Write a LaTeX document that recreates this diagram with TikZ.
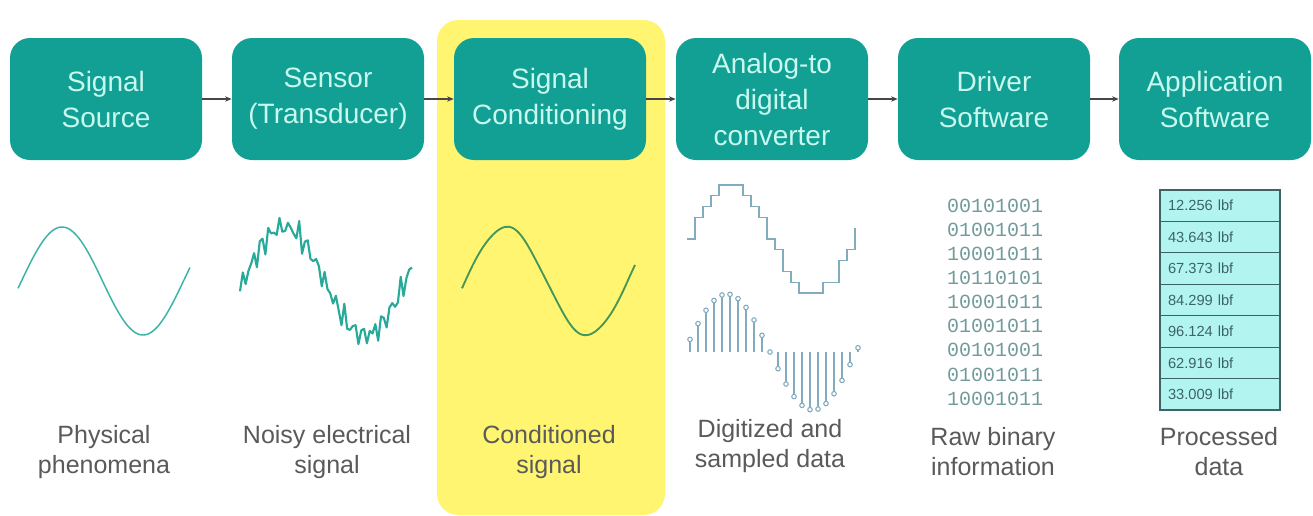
\documentclass[tikz,border=0pt]{standalone}
\usepackage{fontspec}
\setmainfont{Liberation Sans}
\setmonofont{Liberation Mono}
\usetikzlibrary{arrows.meta}
\definecolor{teal1}{RGB}{18,160,148}
\definecolor{boxtext}{RGB}{200,248,238}
\definecolor{hl}{RGB}{255,245,112}
\definecolor{wavec}{RGB}{58,180,165}
\definecolor{noisec}{RGB}{40,170,155}
\definecolor{condw}{RGB}{70,150,90}
\definecolor{digi}{RGB}{130,172,190}
\definecolor{labelc}{RGB}{90,90,90}
\definecolor{binc}{RGB}{115,155,155}
\definecolor{cellfill}{RGB}{178,245,240}
\definecolor{cellline}{RGB}{60,100,100}
\definecolor{arrowc}{RGB}{70,70,70}
\tikzset{
  stage/.style={fill=teal1, rounded corners=15pt, minimum width=144pt, minimum height=91.5pt,
    text=boxtext, font=\fontsize{21}{27}\selectfont, align=center, inner sep=0pt},
  conn/.style={draw=arrowc, line width=0.8pt, -{Stealth[length=5pt,width=4pt]}},
  lbl/.style={text=labelc, align=center, font=\fontsize{18.75}{22.5}\selectfont},
  bin/.style={text=binc, align=center, font=\ttfamily\fontsize{15}{18.1}\selectfont},
  cell/.style={draw=cellline, fill=cellfill, line width=0.8pt, minimum width=90pt, minimum height=23.55pt,
    text width=78pt, align=left, inner xsep=6pt, inner ysep=0pt, font=\fontsize{11}{13}\selectfont, text=cellline},
  physw/.style={draw=wavec, line width=1.1pt, line join=round},
  noisyw/.style={draw=noisec, line width=1.6pt, line join=round},
  condws/.style={draw=condw, line width=1.4pt, line join=round},
  digiw/.style={draw=digi, line width=0.8pt}
}
\begin{document}
\begin{tikzpicture}[x=0.75pt,y=-0.75pt]
\useasboundingbox (0,0) rectangle (1313,515);
\fill[white] (0,0) rectangle (1313,515);
% highlight
\fill[hl, rounded corners=16pt] (437,20) rectangle (665,515);
% stages
\node[stage] (src) at (106,99) {Signal\\Source};
\node[stage] (sen) at (328,99) {Sensor\\(Transducer)};
\node[stage] (cond) at (550,99) {Signal\\Conditioning};
\node[stage] (adc) at (772,99) {Analog-to\\digital\\converter};
\node[stage] (drv) at (994,99) {Driver\\Software};
\node[stage] (app) at (1215,99) {Application\\Software};
\draw[conn] (src.east) -- (sen.west);
\draw[conn] (sen.east) -- (cond.west);
\draw[conn] (cond.east) -- (adc.west);
\draw[conn] (adc.east) -- (drv.west);
\draw[conn] (drv.east) -- (app.west);
% physical sine
\draw[physw] plot[domain=18:190, samples=100, smooth] (\x, {281-54*cos(2.2222*(\x-62))});
% noisy
\draw[noisyw] plot[domain=240:412, samples=62] (\x, {281-54*cos(2.2222*(\x-284)) + 8*sin(89*(\x-240)) + 6*sin(71*(\x-240)+30) + 3*sin(47*(\x-240))});
% conditioned
\draw[condws] plot[domain=462:635, samples=45, smooth] (\x, {281-54*cos(2.2222*(\x-506)) + 0.9*sin(83*(\x-462))});
% staircase
\draw[digiw] (687,{239-10.8*round(5*cos(2.16867*(691-731)))})
  \foreach \k in {0,...,20} {
    -- ({695+8*\k},{239-10.8*round(5*cos(2.16867*(691+8*\k-731)))})
    -- ({695+8*\k},{239-10.8*round(5*cos(2.16867*(699+8*\k-731)))})
  };
% stems
\foreach \k in {0,...,21} {
  \pgfmathsetmacro\sx{690+8*\k}
  \pgfmathsetmacro\sv{58*sin(2.0930*(\sx-684))}
  \draw[digiw] (\sx,352) -- (\sx,{352-(\sv)});
  \draw[digiw, fill=white] (\sx,{352-(\sv)}) circle[radius=1.7pt];
}
% binary
\node[bin] (bin) at (995,302) {00101001\\01001011\\10001011\\10110101\\10001011\\01001011\\00101001\\01001011\\10001011};
% table
\node[cell] (c1) at (1220,205.7) {12.256 lbf};
\node[cell] (c2) at (1220,237.1) {43.643 lbf};
\node[cell] (c3) at (1220,268.6) {67.373 lbf};
\node[cell] (c4) at (1220,300.0) {84.299 lbf};
\node[cell] (c5) at (1220,331.4) {96.124 lbf};
\node[cell] (c6) at (1220,362.9) {62.916 lbf};
\node[cell] (c7) at (1220,394.3) {33.009 lbf};
% labels
\node[lbl] (l1) at (104,452) {Physical\\phenomena};
\node[lbl] (l2) at (327,452) {Noisy electrical\\signal};
\node[lbl] (l3) at (549,452) {Conditioned\\signal};
\node[lbl] (l4) at (770,446) {Digitized and\\sampled data};
\node[lbl] (l5) at (993,452) {Raw binary\\information};
\node[lbl] (l6) at (1219,452) {Processed\\data};
\end{tikzpicture}
\end{document}
